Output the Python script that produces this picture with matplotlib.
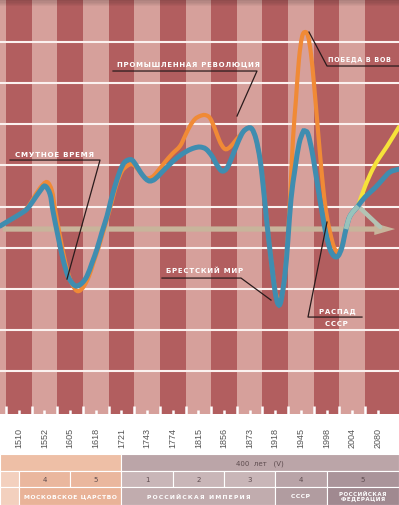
import numpy as np
import matplotlib
matplotlib.use("Agg")
import matplotlib.pyplot as plt
from matplotlib.path import Path
from matplotlib.patches import PathPatch, Rectangle, FancyArrowPatch
from matplotlib.transforms import blended_transform_factory

# x: stripe index (label i sits at x=i), y: deviation from the trend line
years = ["1510", "1552", "1605", "1618", "1721", "1743", "1774", "1815",
         "1856", "1873", "1918", "1945", "1998", "2004", "2080"]

blue_x = [-0.733, -0.343, 0.047, 0.320, 0.554, 0.827, 1.021, 1.216, 1.333, 1.528,
          1.723, 1.918, 2.113, 2.269, 2.464, 2.659, 2.854, 3.049, 3.244, 3.439,
          3.595, 3.750, 3.945, 4.101, 4.257, 4.413, 4.569, 4.764, 4.959, 5.115,
          5.310, 5.583, 5.895, 6.207, 6.558, 6.831, 7.064, 7.298, 7.532, 7.727,
          7.922, 8.117, 8.312, 8.546, 8.741, 8.936, 9.092, 9.248, 9.404, 9.520,
          9.637, 9.754, 9.871, 9.988, 10.105, 10.222, 10.378, 10.495, 10.612, 10.768,
          10.924, 11.080, 11.158, 11.275, 11.431, 11.548, 11.704, 11.821, 11.977, 12.133,
          12.289, 12.445, 12.601, 12.757, 12.913, 13.224, 13.50, 13.88, 14.20, 14.47,
          14.823]
blue_y = [0.073, 0.220, 0.366, 0.488, 0.683, 0.927, 1.049, 0.854, 0.439, -0.171,
          -0.732, -1.146, -1.341, -1.390, -1.317, -1.146, -0.829, -0.488, -0.073, 0.317,
          0.707, 1.049, 1.415, 1.610, 1.683, 1.683, 1.561, 1.366, 1.220, 1.171,
          1.220, 1.390, 1.585, 1.756, 1.902, 1.976, 2.000, 1.951, 1.780, 1.561,
          1.415, 1.488, 1.756, 2.122, 2.366, 2.463, 2.439, 2.195, 1.707, 1.098,
          0.366, -0.317, -0.927, -1.512, -1.829, -1.756, -1.098, -0.244, 0.732, 1.463,
          2.073, 2.366, 2.390, 2.317, 1.902, 1.463, 0.854, 0.415, -0.122, -0.488,
          -0.659, -0.659, -0.439, 0.000, 0.317, 0.561, 0.78, 1.00, 1.22, 1.39,
          1.463]

orange_x = [-0.733, -0.343, 0.047, 0.320, 0.554, 0.827, 1.099, 1.294, 1.411, 1.606,
            1.801, 1.996, 2.191, 2.347, 2.542, 2.737, 2.932, 3.127, 3.322, 3.517,
            3.673, 3.828, 4.023, 4.218, 4.374, 4.530, 4.725, 4.959, 5.193, 5.388,
            5.700, 5.973, 6.285, 6.480, 6.675, 6.870, 7.064, 7.259, 7.454, 7.649,
            7.844, 8.039, 8.234, 8.468, 8.741, 8.936, 9.092, 9.248, 9.404, 9.520,
            9.637, 9.754, 9.871, 9.988, 10.105, 10.222, 10.339, 10.456, 10.573, 10.690,
            10.807, 10.924, 11.041, 11.158, 11.275, 11.392, 11.509, 11.626, 11.743, 11.860,
            11.977, 12.133, 12.289, 12.445, 12.601, 12.757, 12.913, 13.224]
orange_y = [0.073, 0.220, 0.366, 0.512, 0.732, 1.000, 1.146, 0.927, 0.488, -0.171,
            -0.780, -1.220, -1.463, -1.512, -1.390, -1.146, -0.780, -0.415, 0.000, 0.415,
            0.780, 1.122, 1.415, 1.537, 1.585, 1.537, 1.390, 1.244, 1.268, 1.390,
            1.634, 1.829, 2.024, 2.268, 2.512, 2.683, 2.756, 2.780, 2.707, 2.439,
            2.122, 1.951, 2.000, 2.171, 2.366, 2.463, 2.439, 2.195, 1.707, 1.098,
            0.366, -0.317, -0.927, -1.463, -1.707, -1.707, -1.341, -0.488, 0.732, 2.195,
            3.171, 4.146, 4.683, 4.805, 4.707, 4.268, 3.537, 2.683, 1.829, 1.049,
            0.439, -0.073, -0.439, -0.561, -0.390, 0.000, 0.317, 0.561]

# pale stretch where the branches meet
pale_x = [12.757, 12.913, 13.224]
pale_y = [0.000, 0.317, 0.561]

yellow_x = [13.224, 13.50, 13.80, 14.08, 14.36, 14.823]
yellow_y = [0.561, 1.040, 1.463, 1.760, 2.020, 2.490]

grey_x = [13.224, 14.09]
grey_y = [0.561, 0.05]

# bottom table: (start, end, label) in stripe units
cycles = [(0, 2, "4"), (2, 4, "5"), (4, 6, "1"), (6, 8, "2"), (8, 10, "3"),
          (10, 12, "4"), (12, None, "5")]
states = [(0, 4, "МОСКОВСКОЕ ЦАРСТВО"), (4, 10, "РОССИЙСКАЯ ИМПЕРИЯ"),
          (10, 12, "СССР"), (12, None, "РОССИЙСКАЯ\nФЕДЕРАЦИЯ")]

notes = [
    ("СМУТНОЕ ВРЕМЯ", 5.1, (-0.148, 1.83), [(-0.343, 1.683), (3.166, 1.683), (1.879, -1.22)]),
    ("ПРОМЫШЛЕННАЯ РЕВОЛЮЦИЯ", 5.0, (3.83, 4.02), [(3.673, 3.854), (9.287, 3.854), (8.507, 2.756)]),
    ("ПОБЕДА В ВОВ", 4.7, (12.05, 4.15), [(14.9, 3.976), (12.016, 3.976), (11.314, 4.805)]),
    ("БРЕСТСКИЙ МИР", 5.0, (5.74, -1.0), [(5.583, -1.195), (8.663, -1.195), (9.832, -1.732)]),
]

XMIN, XMAX = -0.733, 14.823
YMIN, YMAX = -4.51, 5.61
dark, light = "#b25e5f", "#d6a09b"


def smooth(xs, ys):
    pts = np.column_stack([xs, ys])
    verts, codes = [pts[0]], [Path.MOVETO]
    n = len(pts)
    for i in range(n - 1):
        p0, p1 = pts[max(i - 1, 0)], pts[i]
        p2, p3 = pts[i + 1], pts[min(i + 2, n - 1)]
        verts += [p1 + (p2 - p0) / 6, p2 - (p3 - p1) / 6, p2]
        codes += [Path.CURVE4] * 3
    return Path(verts, codes)


def spaced(s, sep="\u200a"):
    return sep.join(s)


fig = plt.figure(figsize=(3.99, 5.06), dpi=100)
fig.patch.set_facecolor("white")
ax = fig.add_axes([0, 91 / 506, 1, 415 / 506])
ax.set_xlim(XMIN, XMAX)
ax.set_ylim(YMIN, YMAX)
ax.set_facecolor(light)
for s in ax.spines.values():
    s.set_visible(False)

# stripes
for i in range(len(years)):
    if i % 2 == 0:
        right = i + 0.5 if i < len(years) - 1 else XMAX
        ax.axvspan(i - 0.5, right, color=dark, lw=0, zorder=0)

# horizontal white lines
for k in range(-4, 5):
    ax.axhline(k + 0.55, color="#fbf1ef", lw=1.5, zorder=1)

# soft shadow at the top
for j in range(6):
    ax.axhspan(YMAX - (j + 1) * 0.03, YMAX - j * 0.03, color="black",
               alpha=0.22 * (1 - j / 6), lw=0, zorder=1)

# trend arrow
arrow = FancyArrowPatch((XMIN, 0), (14.78, 0),
                        arrowstyle="simple,head_length=1.5,head_width=0.86,tail_width=0.38",
                        mutation_scale=10, color="#c8b49b", lw=0, zorder=2)
ax.add_patch(arrow)

ax.plot(grey_x, grey_y, color="#b3c3b4", lw=3.2, solid_capstyle="round", zorder=3)
ax.add_patch(PathPatch(smooth(orange_x, orange_y), fill=False, ec="#f08a36",
                       lw=3.0, capstyle="round", zorder=4))
ax.add_patch(PathPatch(smooth(yellow_x, yellow_y), fill=False, ec="#f6e23a",
                       lw=3.0, capstyle="round", zorder=4))
ax.add_patch(PathPatch(smooth(blue_x, blue_y), fill=False, ec="#3f8db0",
                       lw=3.6, capstyle="round", zorder=5))
ax.add_patch(PathPatch(smooth(pale_x, pale_y), fill=False, ec="#98c3bc",
                       lw=3.4, capstyle="butt", zorder=5.5))

# annotations
for text, fs, (tx, ty), line in notes:
    lx, ly = zip(*line)
    ax.plot(lx, ly, color="#2a1b1c", lw=0.9, zorder=6, clip_on=False)
    ax.text(tx, ty, spaced(text), color="white", fontsize=fs, fontweight="bold",
            ha="left", va="center", zorder=7)
ax.plot([13.38, 11.275, 12.016], [-2.146, -2.146, 0.171], color="#2a1b1c", lw=0.9, zorder=6)
ax.text(12.40, -2.0, spaced("РАСПАД"), color="white", fontsize=5.0,
        fontweight="bold", ha="center", va="center", zorder=7)
ax.text(12.40, -2.28, spaced("СССР"), color="white", fontsize=5.0,
        fontweight="bold", ha="center", va="center", zorder=7)

# ticks and year labels
idx = np.arange(len(years))
ax.set_yticks([])
ax.set_xticks(idx - 0.5)
ax.set_xticklabels([])
ax.set_xticks(idx, labels=years, minor=True)
ax.tick_params(axis="x", which="major", direction="in", length=5.8, width=1.8,
               color="white")
ax.tick_params(axis="x", which="minor", direction="in", length=2.9, width=1.8,
               color="white", pad=9.4, labelsize=6.5, labelcolor="#555555",
               labelrotation=90)
for lab in ax.get_xticklabels(minor=True):
    lab.set_family("Liberation Sans")

# bottom table
tr = blended_transform_factory(ax.transData, fig.transFigure)
r1, r2, r3, r4 = 1 - 455 / 506, 1 - 472 / 506, 1 - 488 / 506, 0.0


def cell(x0, x1, y0, y1, fc):
    x1 = XMAX if x1 is None else x1
    ax.add_patch(Rectangle((x0, y0), x1 - x0, y1 - y0, transform=tr, fc=fc,
                           ec="white", lw=0.8, clip_on=False, zorder=1))
    return (x0 + x1) / 2, (y0 + y1) / 2


cell(XMIN, 4, r2, r1, "#eebfa6")
cx, cy = cell(4, None, r2, r1, "#bba5a8")
ax.text(cx, cy, "400  лет   (V)", transform=tr, fontsize=5, color="#5e4c4f",
        ha="center", va="center")
cell(XMIN, 0, r3, r2, "#f3d0be")
cell(XMIN, 0, r4, r3, "#f3d0be")
cyc_colors = ["#eab79e", "#eab79e", "#c9b6b8", "#c9b6b8", "#c9b6b8", "#b9a4a8", "#aa949a"]
for (a, b, lab), fc in zip(cycles, cyc_colors):
    cx, cy = cell(a, b, r3, r2, fc)
    ax.text(cx, cy, lab, transform=tr, fontsize=5, color="#5e4c4f",
            ha="center", va="center")
st_colors = ["#e9b398", "#c1acae", "#b19ca0", "#a08990"]
for (a, b, lab), fc in zip(states, st_colors):
    cx, cy = cell(a, b, r4, r3, fc)
    fs = 4.0 if "\n" in lab else 4.3
    sep = "\u2009" if lab.startswith("РОССИЙСКАЯ И") else "\u200a"
    txt = "\n".join(spaced(part, sep) for part in lab.split("\n"))
    ax.text(cx, cy, txt, transform=tr, fontsize=fs, color="white", fontweight="bold",
            ha="center", va="center", linespacing=0.95)

fig.savefig("out.png", dpi=100)
